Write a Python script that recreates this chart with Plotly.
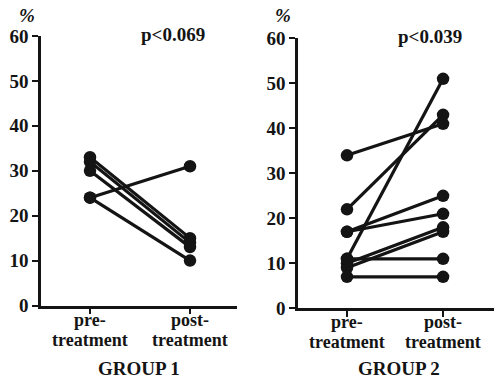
import plotly.graph_objects as go

# Paired measurements (%) before and after treatment
group1_pre = [33, 32, 30, 24, 24]
group1_post = [15, 14, 13, 31, 10]
group2_pre = [34, 22, 17, 17, 11, 10, 9, 11, 7]
group2_post = [41, 43, 25, 21, 51, 18, 17, 11, 7]

x_categories = [0, 1]
x_label_top = ["pre-", "post-"]
x_label_bottom = ["treatment", "treatment"]
y_ticks = [0, 10, 20, 30, 40, 50, 60]
group_titles = ["GROUP 1", "GROUP 2"]
p_values = ["p<0.069", "p<0.039"]

W, H = 496, 380
INK = "#141414"
FONT = "Liberation Serif"


def px_x(x):
    return x / W


def px_y(y):
    return 1 - y / H


fig = go.Figure()

panels = [
    dict(pre=group1_pre, post=group1_post, xa="x", ya="y"),
    dict(pre=group2_pre, post=group2_post, xa="x2", ya="y2"),
]
for p in panels:
    for a, b in zip(p["pre"], p["post"]):
        fig.add_trace(go.Scatter(
            x=x_categories, y=[a, b], mode="lines+markers",
            xaxis=p["xa"], yaxis=p["ya"],
            line=dict(color=INK, width=3.2),
            marker=dict(color=INK, size=12.5),
            showlegend=False, hoverinfo="skip", cliponaxis=False,
        ))

axis_common = dict(
    showline=True, linecolor=INK, linewidth=2.5, showgrid=False, zeroline=False,
    ticks="outside", ticklen=6, tickwidth=2, tickcolor=INK, automargin=False,
)
tick_font = dict(family=FONT, size=19, color=INK, weight=700)

fig.update_layout(
    width=W, height=H, margin=dict(l=0, r=0, t=0, b=0),
    paper_bgcolor="white", plot_bgcolor="white",
    xaxis=dict(domain=[px_x(41), px_x(237)], range=[-0.49, 1.47],
               tickvals=x_categories, showticklabels=False, anchor="y", **axis_common),
    yaxis=dict(domain=[px_y(305.5), px_y(36)], range=[0, 60], tickvals=y_ticks,
               tickfont=tick_font, anchor="x", **axis_common),
    xaxis2=dict(domain=[px_x(298), px_x(494)], range=[-0.51, 1.53],
                tickvals=x_categories, showticklabels=False, anchor="y2", **axis_common),
    yaxis2=dict(domain=[px_y(308.3), px_y(38.3)], range=[0, 60], tickvals=y_ticks,
                tickfont=tick_font, anchor="x2", **axis_common),
)

text_font = dict(family=FONT, size=19, color=INK, weight=700)
cat_font = dict(family=FONT, size=18, color=INK, weight=700)
annotations = []
# label positions in pixels for each panel
panel_px = [
    dict(cats=[90, 190], lab_y=[320, 340], pct=(27, 15), p=(172.5, 34), title=(138.5, 368)),
    dict(cats=[347, 443], lab_y=[322, 342], pct=(283, 15), p=(430, 37), title=(398.5, 368)),
]


def add_text(x, y, text, font):
    annotations.append(dict(x=px_x(x), y=px_y(y), xref="paper", yref="paper",
                            text=text, showarrow=False, font=font,
                            xanchor="center", yanchor="middle", borderpad=0))


for i, pp in enumerate(panel_px):
    for j, cx in enumerate(pp["cats"]):
        add_text(cx, pp["lab_y"][0], x_label_top[j], cat_font)
        add_text(cx, pp["lab_y"][1], x_label_bottom[j], cat_font)
    add_text(pp["pct"][0], pp["pct"][1], "%",
             dict(family=FONT, size=19, color=INK, weight=700, style="italic"))
    add_text(pp["p"][0], pp["p"][1], p_values[i], text_font)
    add_text(pp["title"][0], pp["title"][1], group_titles[i], text_font)

fig.update_layout(annotations=annotations)
fig.write_html("out.html")
